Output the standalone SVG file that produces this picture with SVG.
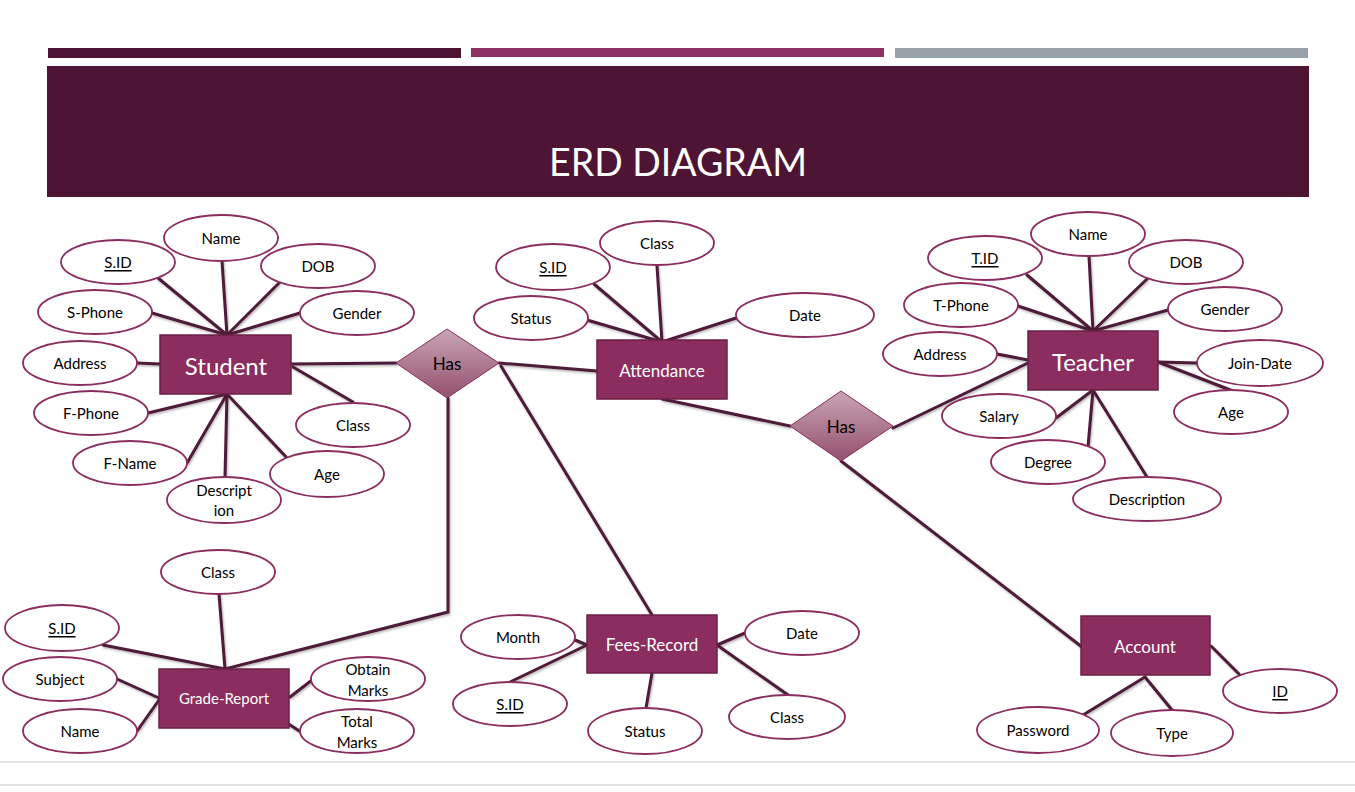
<svg xmlns="http://www.w3.org/2000/svg" width="1355" height="792" viewBox="0 0 1355 792">
<defs>
<style>
.attr{fill:#fff;stroke:#8b2d5e;stroke-width:1.8}
.at{font-family:Lato,"Open Sans","Liberation Sans",sans-serif;font-size:15px;fill:#000;text-anchor:middle;dominant-baseline:central}
.u{text-decoration:underline}
.ent{fill:#8b2d5e;stroke:#6b1f47;stroke-width:1.5}
.et{font-family:Lato,"Open Sans","Liberation Sans",sans-serif;fill:#fff;text-anchor:middle;dominant-baseline:central}
.rel{fill:url(#dg);stroke:#8b2d5e;stroke-width:1}
.rt{font-family:Lato,"Open Sans","Liberation Sans",sans-serif;font-size:17px;fill:#000;text-anchor:middle;dominant-baseline:central}
#connectors line,#connectors polyline{stroke:#4d1a38;stroke-width:3;fill:none;stroke-linecap:round}
</style>
<linearGradient id="dg" x1="0" y1="0" x2="0" y2="1">
<stop offset="0" stop-color="#c9a5b6"/>
<stop offset="1" stop-color="#94506f"/>
</linearGradient>
<filter id="sh" x="-5%" y="-5%" width="110%" height="110%">
<feDropShadow dx="1" dy="1.5" stdDeviation="1" flood-color="#000" flood-opacity="0.3"/>
</filter>
</defs>
<rect width="1355" height="792" fill="#fff"/>
<g id="header">
<rect x="48" y="48" width="413" height="10" fill="#4d1533"/>
<rect x="471" y="48" width="413" height="9" fill="#8e2f62"/>
<rect x="895" y="48" width="413" height="10" fill="#98a0a8"/>
<rect x="47" y="66" width="1262" height="131" fill="#4d1533"/>
<text x="678" y="161" font-family="Lato,'Open Sans','Liberation Sans',sans-serif" font-size="38" fill="#fff" text-anchor="middle" dominant-baseline="central" textLength="258" lengthAdjust="spacingAndGlyphs">ERD DIAGRAM</text>
</g>
<line x1="0" y1="762" x2="1355" y2="762" stroke="#c8c8c8" stroke-width="1"/>
<line x1="0" y1="785" x2="1355" y2="785" stroke="#c8c8c8" stroke-width="1"/>
<g id="connectors" filter="url(#sh)">
<!-- Student -->
<line x1="158" y1="278" x2="227" y2="335"/>
<line x1="222" y1="261" x2="227" y2="335"/>
<line x1="279" y1="283" x2="227" y2="335"/>
<line x1="152" y1="313" x2="227" y2="335"/>
<line x1="300" y1="313" x2="227" y2="335"/>
<line x1="137" y1="363" x2="160" y2="364"/>
<line x1="291" y1="364" x2="396" y2="363"/>
<line x1="293" y1="367" x2="353" y2="402"/>
<line x1="148" y1="413" x2="227" y2="394"/>
<line x1="187" y1="463" x2="227" y2="394"/>
<line x1="225" y1="477" x2="227" y2="394"/>
<line x1="287" y1="458" x2="227" y2="394"/>
<!-- Attendance -->
<line x1="657" y1="266" x2="662" y2="342"/>
<line x1="594" y1="284" x2="662" y2="342"/>
<line x1="587" y1="320" x2="662" y2="342"/>
<line x1="736" y1="318" x2="662" y2="342"/>
<line x1="499" y1="363" x2="597" y2="371"/>
<line x1="662" y1="399" x2="790" y2="426"/>
<line x1="501" y1="366" x2="652" y2="615"/>
<polyline points="448,398 448,612 225,669"/>
<!-- Teacher -->
<line x1="1027" y1="275" x2="1093" y2="331"/>
<line x1="1089" y1="256" x2="1093" y2="331"/>
<line x1="1147" y1="279" x2="1093" y2="331"/>
<line x1="1018" y1="306" x2="1093" y2="331"/>
<line x1="1168" y1="310" x2="1093" y2="331"/>
<line x1="997" y1="354" x2="1028" y2="360"/>
<line x1="893" y1="428" x2="1030" y2="362"/>
<line x1="1197" y1="363" x2="1158" y2="362"/>
<line x1="1233" y1="391" x2="1158" y2="362"/>
<line x1="1056" y1="418" x2="1093" y2="390"/>
<line x1="1088" y1="447" x2="1093" y2="390"/>
<line x1="1147" y1="477" x2="1093" y2="390"/>
<line x1="841" y1="461" x2="1082" y2="647"/>
<!-- Grade-Report -->
<line x1="219" y1="594" x2="225" y2="669"/>
<line x1="103" y1="645" x2="225" y2="669"/>
<line x1="117" y1="679" x2="159" y2="698"/>
<line x1="137" y1="731" x2="159" y2="700"/>
<line x1="312" y1="680" x2="290" y2="697"/>
<line x1="301" y1="732" x2="287" y2="723"/>
<!-- Fees-Record -->
<line x1="575" y1="640" x2="587" y2="645"/>
<line x1="510" y1="682" x2="587" y2="645"/>
<line x1="646" y1="708" x2="652" y2="673"/>
<line x1="745" y1="633" x2="717" y2="645"/>
<line x1="788" y1="695" x2="717" y2="645"/>
<!-- Account -->
<line x1="1239" y1="674" x2="1211" y2="646"/>
<line x1="1083" y1="715" x2="1145" y2="677"/>
<line x1="1172" y1="710" x2="1145" y2="677"/>
</g>
<!-- Relationships -->
<g id="has1"><polygon class="rel" points="447,329 499,363 447,398 396,363"/><text class="rt" x="447" y="363">Has</text></g>
<g id="has2"><polygon class="rel" points="841,391 893,426 841,461 790,426"/><text class="rt" x="841" y="426">Has</text></g>
<!-- Entities -->
<g id="student"><rect class="ent" x="160" y="335" width="131" height="59"/><text class="et" x="226" y="365" font-size="24">Student</text></g>
<g id="attendance"><rect class="ent" x="597" y="340" width="130" height="59"/><text class="et" x="662" y="370" font-size="17">Attendance</text></g>
<g id="teacher"><rect class="ent" x="1028" y="331" width="130" height="59"/><text class="et" x="1093" y="361" font-size="24">Teacher</text></g>
<g id="grade-report"><rect class="ent" x="159" y="669" width="130" height="59"/><text class="et" x="224" y="698" font-size="15">Grade-Report</text></g>
<g id="fees-record"><rect class="ent" x="587" y="615" width="130" height="58"/><text class="et" x="652" y="644" font-size="17">Fees-Record</text></g>
<g id="account"><rect class="ent" x="1081" y="616" width="129" height="59"/><text class="et" x="1145" y="646" font-size="17">Account</text></g>
<!-- Student attributes -->
<g id="st-name"><ellipse class="attr" cx="221" cy="238" rx="57" ry="23"/><text class="at" x="221" y="238">Name</text></g>
<g id="st-sid"><ellipse class="attr" cx="118" cy="262" rx="57" ry="22"/><text class="at u" x="118" y="262">S.ID</text></g>
<g id="st-dob"><ellipse class="attr" cx="318" cy="266" rx="57" ry="22"/><text class="at" x="318" y="266">DOB</text></g>
<g id="st-sphone"><ellipse class="attr" cx="95" cy="312" rx="57" ry="22"/><text class="at" x="95" y="312">S-Phone</text></g>
<g id="st-gender"><ellipse class="attr" cx="357" cy="313" rx="57" ry="22"/><text class="at" x="357" y="313">Gender</text></g>
<g id="st-address"><ellipse class="attr" cx="80" cy="363" rx="57" ry="22"/><text class="at" x="80" y="363">Address</text></g>
<g id="st-fphone"><ellipse class="attr" cx="91" cy="413" rx="57" ry="22"/><text class="at" x="91" y="413">F-Phone</text></g>
<g id="st-class"><ellipse class="attr" cx="353" cy="425" rx="57" ry="22"/><text class="at" x="353" y="425">Class</text></g>
<g id="st-fname"><ellipse class="attr" cx="130" cy="463" rx="57" ry="22"/><text class="at" x="130" y="463">F-Name</text></g>
<g id="st-age"><ellipse class="attr" cx="327" cy="474" rx="57" ry="23"/><text class="at" x="327" y="474">Age</text></g>
<g id="st-desc"><ellipse class="attr" cx="224" cy="500" rx="57" ry="23"/><text class="at" x="224" y="490">Descript</text><text class="at" x="224" y="510">ion</text></g>
<!-- Attendance attributes -->
<g id="at-class"><ellipse class="attr" cx="657" cy="243" rx="57" ry="22"/><text class="at" x="657" y="243">Class</text></g>
<g id="at-sid"><ellipse class="attr" cx="553" cy="267" rx="57" ry="23"/><text class="at u" x="553" y="267">S.ID</text></g>
<g id="at-status"><ellipse class="attr" cx="531" cy="318" rx="57" ry="22"/><text class="at" x="531" y="318">Status</text></g>
<g id="at-date"><ellipse class="attr" cx="805" cy="315" rx="69" ry="22"/><text class="at" x="805" y="315">Date</text></g>
<!-- Teacher attributes -->
<g id="te-name"><ellipse class="attr" cx="1088" cy="234" rx="57" ry="22"/><text class="at" x="1088" y="234">Name</text></g>
<g id="te-tid"><ellipse class="attr" cx="985" cy="258" rx="57" ry="22"/><text class="at u" x="985" y="258">T.ID</text></g>
<g id="te-dob"><ellipse class="attr" cx="1186" cy="262" rx="57" ry="22"/><text class="at" x="1186" y="262">DOB</text></g>
<g id="te-tphone"><ellipse class="attr" cx="961" cy="305" rx="57" ry="22"/><text class="at" x="961" y="305">T-Phone</text></g>
<g id="te-gender"><ellipse class="attr" cx="1225" cy="309" rx="57" ry="22"/><text class="at" x="1225" y="309">Gender</text></g>
<g id="te-address"><ellipse class="attr" cx="940" cy="354" rx="57" ry="22"/><text class="at" x="940" y="354">Address</text></g>
<g id="te-joindate"><ellipse class="attr" cx="1260" cy="363" rx="63" ry="23"/><text class="at" x="1260" y="363">Join-Date</text></g>
<g id="te-age"><ellipse class="attr" cx="1231" cy="412" rx="57" ry="22"/><text class="at" x="1231" y="412">Age</text></g>
<g id="te-salary"><ellipse class="attr" cx="999" cy="416" rx="57" ry="22"/><text class="at" x="999" y="416">Salary</text></g>
<g id="te-degree"><ellipse class="attr" cx="1048" cy="462" rx="57" ry="22"/><text class="at" x="1048" y="462">Degree</text></g>
<g id="te-desc"><ellipse class="attr" cx="1147" cy="499" rx="74" ry="22"/><text class="at" x="1147" y="499">Description</text></g>
<!-- Grade-Report attributes -->
<g id="gr-class"><ellipse class="attr" cx="218" cy="572" rx="57" ry="22"/><text class="at" x="218" y="572">Class</text></g>
<g id="gr-sid"><ellipse class="attr" cx="62" cy="628" rx="57" ry="23"/><text class="at u" x="62" y="628">S.ID</text></g>
<g id="gr-subject"><ellipse class="attr" cx="60" cy="679" rx="57" ry="22"/><text class="at" x="60" y="679">Subject</text></g>
<g id="gr-name"><ellipse class="attr" cx="80" cy="731" rx="57" ry="22"/><text class="at" x="80" y="731">Name</text></g>
<g id="gr-obtain"><ellipse class="attr" cx="368" cy="679" rx="57" ry="22"/><text class="at" x="368" y="669">Obtain</text><text class="at" x="368" y="690">Marks</text></g>
<g id="gr-total"><ellipse class="attr" cx="357" cy="731" rx="57" ry="22"/><text class="at" x="357" y="721">Total</text><text class="at" x="357" y="742">Marks</text></g>
<!-- Fees-Record attributes -->
<g id="fr-month"><ellipse class="attr" cx="518" cy="637" rx="57" ry="22"/><text class="at" x="518" y="637">Month</text></g>
<g id="fr-date"><ellipse class="attr" cx="802" cy="633" rx="57" ry="22"/><text class="at" x="802" y="633">Date</text></g>
<g id="fr-sid"><ellipse class="attr" cx="510" cy="704" rx="57" ry="22"/><text class="at u" x="510" y="704">S.ID</text></g>
<g id="fr-status"><ellipse class="attr" cx="645" cy="731" rx="57" ry="23"/><text class="at" x="645" y="731">Status</text></g>
<g id="fr-class"><ellipse class="attr" cx="787" cy="717" rx="58" ry="22"/><text class="at" x="787" y="717">Class</text></g>
<!-- Account attributes -->
<g id="ac-id"><ellipse class="attr" cx="1280" cy="691" rx="57" ry="22"/><text class="at u" x="1280" y="691">ID</text></g>
<g id="ac-password"><ellipse class="attr" cx="1038" cy="730" rx="61" ry="23"/><text class="at" x="1038" y="730">Password</text></g>
<g id="ac-type"><ellipse class="attr" cx="1172" cy="733" rx="61" ry="23"/><text class="at" x="1172" y="733">Type</text></g>
</svg>
